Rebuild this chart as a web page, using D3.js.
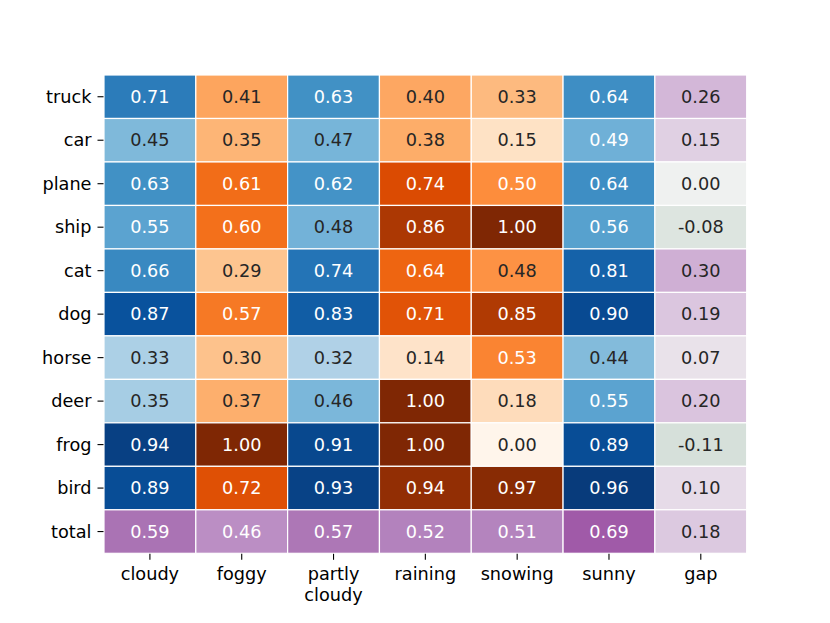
<!DOCTYPE html>
<html>
<head>
<meta charset="utf-8">
<script src="https://cdn.jsdelivr.net/npm/d3@7"></script>
<style>
  html, body { margin: 0; padding: 0; background: #fff; }
  svg { display: block; font-family: "DejaVu Sans", sans-serif; }
</style>
</head>
<body>
<svg id="chart" width="830" height="623"></svg>
<script>
// ---- data ----
const rows = ["truck", "car", "plane", "ship", "cat", "dog", "horse", "deer", "frog", "bird", "total"];
const columns = ["cloudy", "foggy", "partly cloudy", "raining", "snowing", "sunny", "gap"];

const cloudy       = [0.71, 0.45, 0.63, 0.55, 0.66, 0.87, 0.33, 0.35, 0.94, 0.89, 0.59];
const foggy        = [0.41, 0.35, 0.61, 0.60, 0.29, 0.57, 0.30, 0.37, 1.00, 0.72, 0.46];
const partlyCloudy = [0.63, 0.47, 0.62, 0.48, 0.74, 0.83, 0.32, 0.46, 0.91, 0.93, 0.57];
const raining      = [0.40, 0.38, 0.74, 0.86, 0.64, 0.71, 0.14, 1.00, 1.00, 0.94, 0.52];
const snowing      = [0.33, 0.15, 0.50, 1.00, 0.48, 0.85, 0.53, 0.18, 0.00, 0.97, 0.51];
const sunny        = [0.64, 0.49, 0.64, 0.56, 0.81, 0.90, 0.44, 0.55, 0.89, 0.96, 0.69];
const gap          = [0.26, 0.15, 0.00, -0.08, 0.30, 0.19, 0.07, 0.20, -0.11, 0.10, 0.18];

const seriesByColumn = {
  "cloudy": cloudy, "foggy": foggy, "partly cloudy": partlyCloudy,
  "raining": raining, "snowing": snowing, "sunny": sunny, "gap": gap
};
const blueColumns = ["cloudy", "partly cloudy", "sunny"];
const orangeColumns = ["foggy", "raining", "snowing"];

// ---- layout ----
const plotLeft = 104, plotTop = 75, plotRight = 746.7, plotBottom = 553.3;
const fontSize = 17.7;

const svg = d3.select("#chart");

const x = d3.scaleBand().domain(columns).range([plotLeft, plotRight]).padding(0);
const y = d3.scaleBand().domain(rows).range([plotTop, plotBottom]).padding(0);

// colour scales
const blues = d3.scaleLinear().domain([0, 1]).clamp(true)
  .interpolate(() => d3.piecewise(d3.interpolateRgb, d3.schemeBlues[9]));
const oranges = d3.scaleLinear().domain([0, 1]).clamp(true)
  .interpolate(() => d3.piecewise(d3.interpolateRgb, d3.schemeOranges[9]));
const purple = d3.scaleLinear()
  .domain([-0.11, 0.0, 0.1, 0.2, 0.3, 0.46, 0.59, 0.69])
  .range(["#d6e0da", "#eff1f0", "#e6dbe8", "#dac4de", "#cfafd4", "#bb8ec4", "#aa73b4", "#a05aa8"])
  .interpolate(d3.interpolateRgb).clamp(true);

function cellColor(col, row, v) {
  if (row === "total" || col === "gap") return purple(v);
  if (blueColumns.includes(col)) return blues(v);
  return oranges(v);
}

function luminance(c) {
  const rgb = d3.rgb(c);
  const lin = v => { v /= 255; return v <= 0.03928 ? v / 12.92 : Math.pow((v + 0.055) / 1.055, 2.4); };
  return 0.2126 * lin(rgb.r) + 0.7152 * lin(rgb.g) + 0.0722 * lin(rgb.b);
}

const fmt = d3.formatLocale({ decimal: ".", thousands: ",", grouping: [3], currency: ["", ""], minus: "-" }).format(".2f");

const cells = [];
columns.forEach(col => {
  seriesByColumn[col].forEach((v, i) => cells.push({ col, row: rows[i], v }));
});

const g = svg.append("g");

g.selectAll("rect.cell").data(cells).join("rect")
  .attr("class", "cell")
  .attr("x", d => x(d.col))
  .attr("y", d => y(d.row))
  .attr("width", x.bandwidth())
  .attr("height", y.bandwidth())
  .attr("fill", d => cellColor(d.col, d.row, d.v))
  .attr("stroke", "#ffffff")
  .attr("stroke-width", 1.2);

g.selectAll("text.ann").data(cells).join("text")
  .attr("class", "ann")
  .attr("x", d => x(d.col) + x.bandwidth() / 2)
  .attr("y", d => y(d.row) + y.bandwidth() / 2)
  .attr("text-anchor", "middle")
  .attr("dominant-baseline", "central")
  .attr("font-size", fontSize)
  .attr("fill", d => luminance(cellColor(d.col, d.row, d.v)) > 0.404 ? "#262626" : "#ffffff")
  .text(d => fmt(d.v));

// ---- axes ----
const yAxis = d3.axisLeft(y).tickSize(6).tickPadding(6);
const yG = svg.append("g").attr("transform", `translate(${plotLeft - 0.5},0)`).call(yAxis);
yG.select(".domain").remove();
yG.selectAll("text").attr("font-size", fontSize).attr("fill", "#000")
  .attr("font-family", "DejaVu Sans, sans-serif").attr("dy", "0.35em");
yG.selectAll("line").attr("stroke", "#000").attr("stroke-width", 1.1);

const xAxis = d3.axisBottom(x).tickSize(6).tickPadding(8);
const xG = svg.append("g").attr("transform", `translate(0,${plotBottom + 0.5})`).call(xAxis);
xG.select(".domain").remove();
xG.selectAll("line").attr("stroke", "#000").attr("stroke-width", 1.1);
xG.selectAll("text")
  .attr("font-size", fontSize).attr("fill", "#000")
  .attr("font-family", "DejaVu Sans, sans-serif")
  .each(function(d) {
    const t = d3.select(this);
    const parts = d.split(" ");
    t.text(null);
    parts.forEach((p, i) => {
      t.append("tspan").attr("x", 0).attr("dy", i === 0 ? "0.71em" : "1.15em").text(p);
    });
  });
</script>
</body>
</html>
